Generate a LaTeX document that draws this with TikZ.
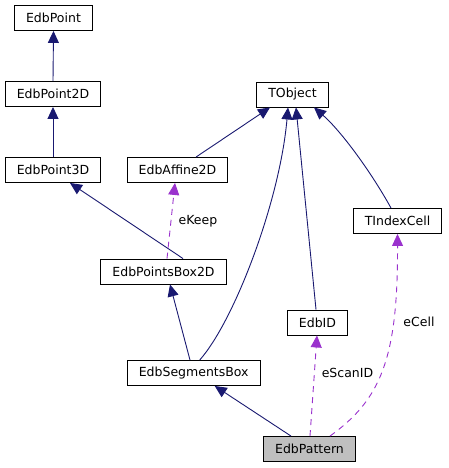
\documentclass[tikz,border=0pt]{standalone}
\usepackage{fontspec}
\setmainfont{DejaVu Sans}
\usetikzlibrary{arrows.meta}
\definecolor{inhcol}{HTML}{191970}
\definecolor{usecol}{HTML}{9A32CD}
\definecolor{boxgray}{HTML}{BFBFBF}

\begin{document}
\begin{tikzpicture}[x=1pt,y=-1pt]
\tikzset{every node/.style={font=\fontsize{12.5}{15}\selectfont}}
\tikzset{cls/.style={draw=black, line width=0.9pt, fill=white, minimum height=25pt, inner xsep=11.5pt, inner ysep=0pt}}
\tikzset{inh/.style={draw=inhcol, line width=0.9pt, -{Triangle[length=12pt,width=11pt]}}}
\tikzset{use/.style={draw=usecol, line width=0.9pt, dash pattern=on 6pt off 5pt, -{Triangle[length=12pt,width=11pt]}}}
\useasboundingbox (0,0) rectangle (449,468);
\node[cls] (point) at (53.5,18) {EdbPoint};
\node[cls] (point2d) at (53,94) {EdbPoint2D};
\node[cls] (point3d) at (53,170) {EdbPoint3D};
\node[cls] (affine) at (177.5,170) {EdbAffine2D};
\node[cls] (tobject) at (292.5,94.5) {TObject};
\node[cls] (tindex) at (397.5,221) {TIndexCell};
\node[cls] (pointsbox) at (163.5,271.5) {EdbPointsBox2D};
\node[cls] (edbid) at (317.5,322.5) {EdbID};
\node[cls] (segbox) at (193.7,373) {EdbSegmentsBox};
\node[cls, fill=boxgray] (pattern) at (309.5,449) {EdbPattern};
\draw[inh] (point2d.north) -- (point.south);
\draw[inh] (point3d.north) -- (point2d.south);
\draw[inh] ([xshift=19.5pt]pointsbox.north) -- ([xshift=17pt]point3d.south);
\draw[inh] ([xshift=18.5pt]affine.north) -- ([xshift=-22.5pt]tobject.south);
\draw[inh] ([xshift=6pt]segbox.north) .. controls (235,320) and (280,200) .. ([xshift=-4.5pt]tobject.south);
\draw[inh] ([xshift=-1.5pt]edbid.north) -- ([xshift=3.5pt]tobject.south);
\draw[inh] ([xshift=-6.5pt]tindex.north) .. controls (370,170) and (340,130) .. ([xshift=21.5pt]tobject.south);
\draw[inh] ([xshift=-3.7pt]segbox.north) -- ([xshift=6.5pt]pointsbox.south);
\draw[inh] ([xshift=-18.5pt]pattern.north) -- ([xshift=21pt]segbox.south);
\draw[use] ([xshift=3.5pt]pointsbox.north) -- ([xshift=-2.5pt]affine.south);
\draw[use] ([xshift=0.5pt]pattern.north) -- ([xshift=-0.5pt]edbid.south);
\draw[use] ([xshift=20.5pt]pattern.north) .. controls (380,400) and (398,360) .. (tindex.south);
\node (keeplbl) at (198,221) {eKeep};
\node (scanlbl) at (347.5,372.5) {eScanID};
\node (celllbl) at (419,321.5) {eCell};
\end{tikzpicture}
\end{document}
